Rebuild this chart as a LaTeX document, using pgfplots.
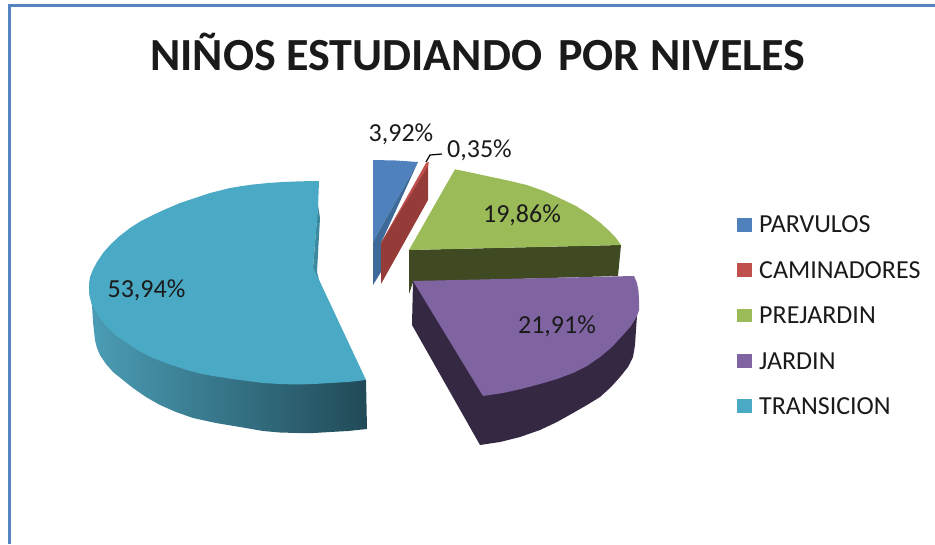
\documentclass[border=0pt]{standalone}
\usepackage{fontspec}
\setmainfont{Carlito}
\usepackage{pgfplots}
\pgfplotsset{compat=1.18}
\definecolor{frameb}{HTML}{5585C0}
\definecolor{txt}{HTML}{1A1A1A}
\definecolor{pblue}{HTML}{4F81BD}
\definecolor{pblueD}{HTML}{3E6A9A}
\definecolor{pred}{HTML}{C0504D}
\definecolor{predD}{HTML}{953C39}
\definecolor{pgreen}{HTML}{9BBB59}
\definecolor{pgreenD}{HTML}{3F4A23}
\definecolor{ppurple}{HTML}{8064A2}
\definecolor{ppurpleD}{HTML}{352843}
\definecolor{pteal}{HTML}{4AA9C4}
\definecolor{ptealL}{HTML}{4B9DB6}
\definecolor{ptealM}{HTML}{387A8D}
\definecolor{ptealD}{HTML}{214A57}
\definecolor{ptealS}{HTML}{3B8AA0}
\newcommand{\lab}[1]{\fontsize{26}{26}\selectfont\color{txt} #1}
\begin{document}
\begin{tikzpicture}[x=1pt,y=1pt]
\useasboundingbox (0,0) rectangle (935pt,544pt);
\begin{axis}[at={(0,0)},anchor=south west,scale only axis,width=935pt,height=544pt,
  xmin=0,xmax=935,ymin=0,ymax=544,y dir=reverse,hide axis,clip=true]
% frame
\addplot[draw=frameb,line width=3pt] coordinates {(9,544) (9,5) (935,5)};
% teal side
\addplot[draw=none,left color=ptealL,middle color=ptealM,right color=ptealD] coordinates {
(89,292)(92,305)(93,322)(95,340)(97,348)(100,355)(106,364)(113,372)(123,380)(133,388)(146,397)(160,405)(176,412)(193,418)(216,423)(240,427)(263,431)(280,432.5)(297,433)(314,433)(330,432)(348,431)(367,429)(366,380)(240,370)(120,320)} -- cycle;
% teal inner sliver
\addplot[fill=ptealS,draw=none] coordinates {(318,205)(320,218)(317,272)(320,284)(313,268)} -- cycle;
% teal top
\addplot[fill=pteal,draw=none] coordinates {
(319,181)(301,181.3)(283,182)(268,183)(253,184.5)(241,186.2)(230,188)(220,190.5)(210,193)(195,198)(180,203)(166,209)(153,215)(141,221)(130,228)(119,236.5)(110,245)(103,253)(97,262)(93,269.5)(90,277)(89,284)(89,292)(90,298)(92,305)(99,317)(107,327)(116,335.5)(127,343)(139,351)(153,358)(170,364.5)(187,370)(200,373.5)(213,376)(226,378)(240,380)(263,383)(280,384)(297,384.5)(314,384)(330,383)(348,382)(366,380)(321,284)(313,268)(318,208)} -- cycle;
% blue
\addplot[fill=pblue,draw=none] coordinates {(373,160)(396,160.5)(418,162)(373,242)} -- cycle;
\addplot[fill=pblueD,draw=none] coordinates {(418,162)(373,242)(373,285)(381,272)(381,243)} -- cycle;
% red
\addplot[fill=predD,draw=none] coordinates {(428,162)(428,200)(381,284)(381,243)} -- cycle;
\addplot[fill=pred,draw=none] coordinates {(426,163)(429,162)(428,166)(381,243)} -- cycle;
% leader
\addplot[draw=black,line width=1.2pt] coordinates {(426,162)(430,155)(442,154)};
% green side
\addplot[fill=pgreenD,draw=none] coordinates {(409,250)(621,245)(618,276)(413,282)(409,294)} -- cycle;
% green top
\addplot[fill=pgreen,draw=none] coordinates {(409,250)(455,169.3)(472,172.8)(490,176.7)(508,180.5)(526.7,185)(544,191)(560,198.3)(576,206)(590,215)(600.5,223)(610,231.7)(616,238)(621,245)} -- cycle;
% purple side
\addplot[fill=ppurpleD,draw=none] coordinates {(413,281)(412,325)(480,445)(500,442)(520,437)(540,430)(557,422)(573,413)(587,405)(600,397)(611,387)(620,377)(628,367)(633,357)(635,345)(636,330)(637,316)(600,340)(483,380)} -- cycle;
% purple top
\addplot[fill=ppurple,draw=none] coordinates {(413,281)(634,276)(637,283)(638.5,291)(639,300)(639,310)(637,316)(631,326)(623,335)(612,347)(600,357)(587,366)(573,373)(557,379)(540,384)(523,388.5)(503,393)(483,396)} -- cycle;
% legend swatches
\addplot[fill=pblue,draw=none] coordinates {(737,218)(752,218)(752,232)(737,232)} -- cycle;
\addplot[fill=pred,draw=none] coordinates {(737,263)(752,263)(752,277)(737,277)} -- cycle;
\addplot[fill=pgreen,draw=none] coordinates {(737,309)(752,309)(752,322)(737,322)} -- cycle;
\addplot[fill=ppurple,draw=none] coordinates {(737,354)(752,354)(752,368)(737,368)} -- cycle;
\addplot[fill=pteal,draw=none] coordinates {(737,399)(752,399)(752,413)(737,413)} -- cycle;
% text
\node[anchor=center] at (axis cs:478,52) {\fontsize{46}{46}\selectfont\color{txt}\bfseries NIÑOS ESTUDIANDO\ \ \kern-0.1em POR NIVELES};
\node[anchor=west,inner sep=0] at (axis cs:759,224) {\lab{PARVULOS}};
\node[anchor=west,inner sep=0] at (axis cs:759,270) {\lab{CAMINADORES}};
\node[anchor=west,inner sep=0] at (axis cs:759,315) {\lab{PREJARDIN}};
\node[anchor=west,inner sep=0] at (axis cs:759,361) {\lab{JARDIN}};
\node[anchor=west,inner sep=0] at (axis cs:759,406) {\lab{TRANSICION}};
\node at (axis cs:401,134) {\lab{3,92\%}};
\node at (axis cs:479.5,150) {\lab{0,35\%}};
\node at (axis cs:522,215) {\lab{19,86\%}};
\node at (axis cs:557,326) {\lab{21,91\%}};
\node at (axis cs:146.5,290) {\lab{53,94\%}};
\end{axis}
\end{tikzpicture}
\end{document}
